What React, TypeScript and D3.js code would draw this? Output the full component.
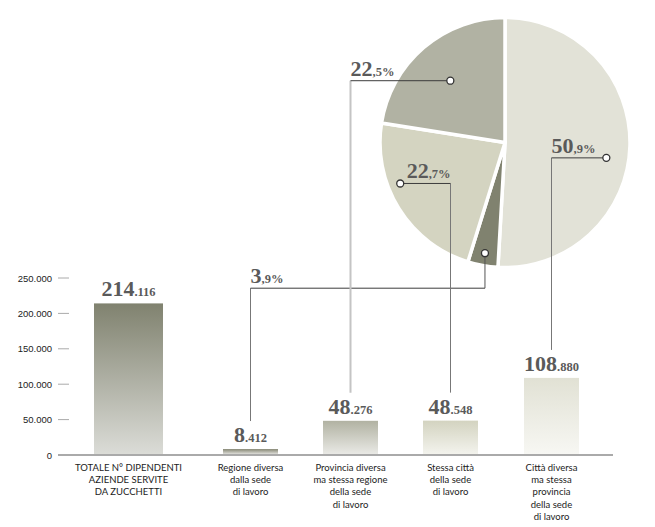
import {useEffect, useRef} from "react";
import * as d3 from "d3";

// bar chart data
const categories = [
    ["TOTALE N° DIPENDENTI", "AZIENDE SERVITE", "DA ZUCCHETTI"],
    ["Regione diversa", "dalla sede", "di lavoro"],
    ["Provincia diversa", "ma stessa regione", "della sede", "di lavoro"],
    ["Stessa città", "della sede", "di lavoro"],
    ["Città diversa", "ma stessa", "provincia", "della sede", "di lavoro"],
];
const values = [214116, 8412, 48276, 48548, 108880];
const yTicks = [0, 50000, 100000, 150000, 200000, 250000];

// pie slices, clockwise from 12 o'clock, each linked to a bar index
const piePct = [50.9, 3.9, 22.7, 22.5];
const pieBar = [4, 1, 3, 2];

const barTop = ["#80826f", "#858673", "#b1b2a2", "#d3d3c0", "#e1e1d4"];
const sliceColor = ["#e2e2d7", "#80826f", "#d4d4c1", "#b1b2a3"];

// leader layout: radius fraction, angle nudge (deg), vertical drop before elbow
const leader = [
    {frac: 0.82, nudge: 7, drop: 0, vColor: "#777", vWidth: 1},
    {frac: 0.9, nudge: 0, drop: 35, vColor: "#777", vWidth: 1},
    {frac: 0.9, nudge: 10.5, drop: 0, vColor: "#777", vWidth: 1},
    {frac: 0.66, nudge: -1, drop: 0, vColor: "#c4c4c4", vWidth: 2},
];

const it = d3.formatLocale({decimal: ",", thousands: ".", grouping: [3], currency: ["€", ""]});
const fmt = it.format(",d");

const serif = "'Liberation Serif', 'DejaVu Serif', serif";

const App = () => {
    const ref = useRef(null);

    useEffect(() => {
        const svg = d3.select(ref.current);
        svg.selectAll("*").remove();

        const y = d3.scaleLinear().domain([0, 250000]).range([455, 278]);
        const x = d3.scaleOrdinal<number, number>().domain(d3.range(5)).range([128.5, 250.5, 350.5, 450.5, 551.5]);
        const barW = (i: number) => (i === 0 ? 69 : 55);

        const defs = svg.append("defs");
        values.forEach((v, i) => {
            const g = defs.append("linearGradient").attr("id", `bg${i}`).attr("x1", 0).attr("x2", 0).attr("y1", 0).attr("y2", 1);
            g.append("stop").attr("offset", "0%").attr("stop-color", barTop[i]);
            g.append("stop").attr("offset", "100%").attr("stop-color", d3.interpolateRgb(barTop[i], "#ffffff")(0.72));
        });

        // y axis ticks
        const ax = svg.append("g");
        ax.selectAll("line").data(yTicks).enter().append("line")
            .attr("x1", 58).attr("x2", 69).attr("y1", d => y(d)).attr("y2", d => y(d))
            .attr("stroke", "#aaa").attr("stroke-width", 1);
        ax.selectAll("text").data(yTicks).enter().append("text")
            .attr("x", 52).attr("y", d => y(d) + 3.5).attr("text-anchor", "end")
            .style("font-family", "'Liberation Sans', Arial, sans-serif").style("font-size", "9.5px").style("fill", "#222")
            .text(d => (d === 0 ? "0" : fmt(d)));
        svg.append("line").attr("x1", 58).attr("x2", 613).attr("y1", 455).attr("y2", 455)
            .attr("stroke", "#aaa").attr("stroke-width", 2);

        // bars
        svg.selectAll(".bar").data(values).enter().append("rect")
            .attr("x", (d, i) => x(i) - barW(i) / 2).attr("width", (d, i) => barW(i))
            .attr("y", d => y(d)).attr("height", d => 454 - y(d))
            .attr("fill", (d, i) => `url(#bg${i})`);

        // value labels: big thousands + small remainder
        const vl = svg.selectAll(".val").data(values).enter().append("text")
            .attr("x", (d, i) => x(i)).attr("y", d => y(d) - 7).attr("text-anchor", "middle")
            .style("font-family", serif).style("font-weight", "bold").style("fill", "#5a5a5a");
        vl.append("tspan").style("font-size", "22px").text(d => fmt(d).split(".")[0]);
        vl.append("tspan").style("font-size", "12.5px").text(d => "." + fmt(d).split(".")[1]);

        // category labels
        categories.forEach((lines, i) => {
            const t = svg.append("text").attr("text-anchor", "middle")
                .style("font-family", "Lato, sans-serif").style("font-size", "9.5px").style("fill", "#222");
            lines.forEach((l, j) => t.append("tspan").attr("x", x(i)).attr("y", 471 + j * 12.2).text(l));
        });

        // pie
        const cx = 505, cy = 142.5, R = 125;
        const pie = d3.pie<number>().sort(null).value(d => d)(piePct);
        const arc = d3.arc<d3.PieArcDatum<number>>().innerRadius(0).outerRadius(R);
        const pg = svg.append("g").attr("transform", `translate(${cx},${cy})`);
        pg.selectAll("path").data(pie).enter().append("path")
            .attr("d", arc).attr("fill", (d, i) => sliceColor[i])
            .attr("stroke", "#fff").attr("stroke-width", 3.5).attr("stroke-linejoin", "round");

        // leaders
        pie.forEach((s, i) => {
            const L = leader[i];
            const a = (s.startAngle + s.endAngle) / 2 + (L.nudge * Math.PI) / 180;
            const px = cx + L.frac * R * Math.sin(a);
            const py = cy - L.frac * R * Math.cos(a);
            const bi = pieBar[i];
            const bx = x(bi);
            const ly = py + L.drop;
            const endY = y(values[bi]) - 7 - 21;

            svg.append("line").attr("x1", bx).attr("x2", bx).attr("y1", ly).attr("y2", endY)
                .attr("stroke", L.vColor).attr("stroke-width", L.vWidth);
            if (L.drop) {
                svg.append("line").attr("x1", px).attr("x2", px).attr("y1", py).attr("y2", ly)
                    .attr("stroke", "#555").attr("stroke-width", 1);
            }
            svg.append("line").attr("x1", px).attr("x2", bx).attr("y1", ly).attr("y2", ly)
                .attr("stroke", "#3c3c3c").attr("stroke-width", 1);
            svg.append("circle").attr("cx", px).attr("cy", py).attr("r", 3.5)
                .attr("fill", "#fff").attr("stroke", "#333").attr("stroke-width", 1.3);

            const parts = piePct[i].toFixed(1).split(".");
            const t = svg.append("text").attr("x", bx).attr("y", ly - 5)
                .attr("text-anchor", px > bx ? "start" : "end")
                .style("font-family", serif).style("font-weight", "bold").style("fill", "#5a5a5a");
            t.append("tspan").style("font-size", "22px").text(parts[0]);
            t.append("tspan").style("font-size", "12.5px").text("," + parts[1] + "%");
        });
    }, []);

    return <svg ref={ref} width={655} height={527} style={{position: "absolute", left: 0, top: 0, background: "#fff"}}/>;
};

export default App;
